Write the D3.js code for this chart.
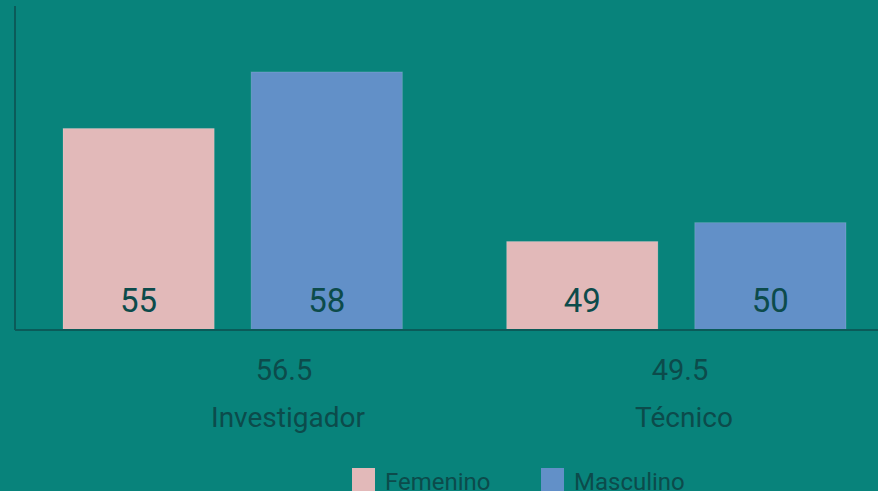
<!DOCTYPE html>
<html>
<head>
<meta charset="utf-8">
<script src="https://cdn.jsdelivr.net/npm/d3@7"></script>
<style>
  html, body { margin: 0; padding: 0; background: #08837b; overflow: hidden; }
  text { font-family: Roboto, sans-serif; fill: #0c4b4b; }
</style>
</head>
<body>
<svg id="chart" width="878" height="491"></svg>
<script>
// Datos
const categories = ['Investigador', 'Técnico'];
const categoryAverages = ['56.5', '49.5'];
const series = ['Femenino', 'Masculino'];
const femenino = [55, 49];
const masculino = [58, 50];

const colors = { Femenino: '#e2b9b9', Masculino: '#6290c8' };

const svg = d3.select('#chart');
const width = 878, height = 491;
const margin = { left: 15, right: 0, top: 6, baseline: 330 };

const rows = categories.map((c, i) => ({
  cat: c,
  values: [
    { key: 'Femenino', value: femenino[i] },
    { key: 'Masculino', value: masculino[i] },
  ],
}));

// Skalen
const x0 = d3.scaleBand()
  .domain(categories)
  .range([margin.left + 48, width - 32])
  .paddingInner(0.235);

const x1 = d3.scaleBand()
  .domain(series)
  .range([0, x0.bandwidth()])
  .paddingInner(0.196);

const y = d3.scaleLinear()
  .domain([44.3, 61.5])
  .range([margin.baseline, margin.top]);

// label positions (tick text sits off the group centres in the original)
const xLabel = d3.scalePoint()
  .domain(categories)
  .range([284, 680]);

// Balken
const groups = svg.selectAll('g.group')
  .data(rows)
  .join('g')
  .attr('class', 'group')
  .attr('transform', (d) => `translate(${x0(d.cat)},0)`);

groups.selectAll('rect')
  .data((d) => d.values)
  .join('rect')
  .attr('x', (d) => x1(d.key))
  .attr('y', (d) => y(d.value))
  .attr('width', x1.bandwidth())
  .attr('height', (d) => y(y.domain()[0]) - y(d.value))
  .attr('fill', (d) => colors[d.key])
  .attr('stroke', 'rgba(255,255,255,0.15)')
  .attr('stroke-width', 1);

groups.selectAll('text.val')
  .data((d) => d.values)
  .join('text')
  .attr('class', 'val')
  .attr('x', (d) => x1(d.key) + x1.bandwidth() / 2)
  .attr('y', margin.baseline - 18)
  .attr('text-anchor', 'middle')
  .attr('font-size', 33)
  .text((d) => d.value);

// Achsen
svg.append('line')
  .attr('x1', margin.left).attr('x2', margin.left)
  .attr('y1', margin.top).attr('y2', margin.baseline)
  .attr('stroke', '#0b5b59').attr('stroke-width', 2);

svg.append('line')
  .attr('x1', margin.left).attr('x2', width)
  .attr('y1', margin.baseline).attr('y2', margin.baseline)
  .attr('stroke', '#0b5b59').attr('stroke-width', 2);

// Kategorie-Beschriftung
svg.selectAll('text.avg')
  .data(categories)
  .join('text')
  .attr('class', 'avg')
  .attr('x', (d) => xLabel(d))
  .attr('y', 380)
  .attr('text-anchor', 'middle')
  .attr('font-size', 29)
  .text((d, i) => categoryAverages[i]);

svg.selectAll('text.cat')
  .data(categories)
  .join('text')
  .attr('class', 'cat')
  .attr('x', (d) => xLabel(d) + 4)
  .attr('y', 427)
  .attr('text-anchor', 'middle')
  .attr('font-size', 28)
  .text((d) => d);

// Legende
const legendX = d3.scalePoint().domain(series).range([352, 541]);
const legend = svg.selectAll('g.legend')
  .data(series)
  .join('g')
  .attr('class', 'legend')
  .attr('transform', (d) => `translate(${legendX(d)},468)`);

legend.append('rect')
  .attr('width', 23).attr('height', 23)
  .attr('fill', (d) => colors[d]);

legend.append('text')
  .attr('x', 33)
  .attr('y', 22)
  .attr('font-size', 24)
  .text((d) => d);
</script>
</body>
</html>
